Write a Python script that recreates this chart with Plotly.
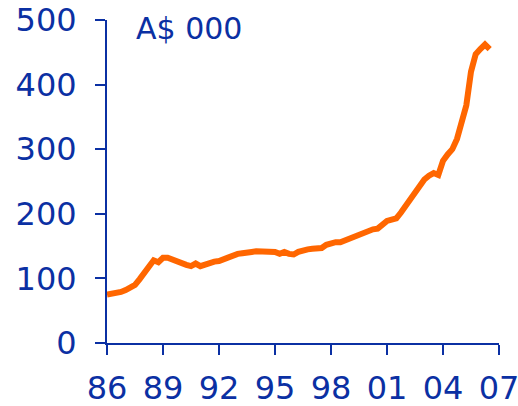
import pandas as pd
import plotly.graph_objects as go

# Quarterly median house price, thousands of Australian dollars
quarters = pd.period_range("1986Q1", "2006Q3", freq="Q")
prices = [
    75, 76, 78, 79,        # 1986
    82, 85, 90, 99,        # 1987
    108, 118, 128, 125,    # 1988
    132, 132, 129, 125,    # 1989
    122, 121, 119, 123,    # 1990
    119, 122, 124, 126,    # 1991
    127, 130, 131, 134,    # 1992
    138, 139, 139, 141,    # 1993
    142, 142, 142, 142,    # 1994
    141, 138, 141, 138,    # 1995
    137, 141, 144, 145,    # 1996
    146, 146, 147, 152,    # 1997
    155, 156, 156, 159,    # 1998
    163, 166, 169, 172,    # 1999
    175, 176, 177, 183,    # 2000
    189, 191, 193, 202,    # 2001
    212, 222, 232, 242,    # 2002
    253, 259, 263, 260,    # 2003
    282, 292, 300, 316,    # 2004
    345, 368, 420, 447,    # 2005
    455, 462, 455,         # 2006
]

x_tick_years = [1986, 1989, 1992, 1995, 1998, 2001, 2004, 2007]
x_tick_labels = ["86", "89", "92", "95", "98", "01", "04", "07"]
y_ticks = [0, 100, 200, 300, 400, 500]
unit_label = "A$ 000"

# decimal-year position of each quarter
x_pos = [q.year + (q.quarter - 1) / 4 for q in quarters]

BLUE = "#0b30a3"
ORANGE = "#ff6600"
FONT = "DejaVu Sans"

fig = go.Figure(
    go.Scatter(
        x=x_pos,
        y=prices,
        mode="lines",
        line=dict(color=ORANGE, width=6),
        hoverinfo="skip",
    )
)

fig.update_layout(
    width=518,
    height=406,
    margin=dict(l=106.5, r=19.3, t=20, b=63.3),
    paper_bgcolor="white",
    plot_bgcolor="white",
    showlegend=False,
    font=dict(family=FONT, color=BLUE, size=32),
    annotations=[
        dict(
            text=unit_label,
            xref="paper", yref="paper",
            x=0.07, y=0.975,
            xanchor="left", yanchor="middle",
            showarrow=False,
            font=dict(family=FONT, size=30, color=BLUE),
        )
    ],
)

axis_style = dict(
    ticks="outside",
    ticklen=10,
    tickwidth=2,
    tickcolor=BLUE,
    showline=True,
    linecolor=BLUE,
    linewidth=2,
    showgrid=False,
    zeroline=False,
    automargin=False,
    ticklabeloverflow="allow",
    tickfont=dict(family=FONT, size=32, color=BLUE),
)

fig.update_xaxes(
    range=[1986, 2007],
    tickvals=x_tick_years,
    ticktext=x_tick_labels,
    ticklabelstandoff=6,
    **axis_style,
)

fig.update_yaxes(
    range=[0, 500],
    tickvals=y_ticks,
    ticklabelstandoff=12,
    **axis_style,
)

fig.write_html("out.html")
